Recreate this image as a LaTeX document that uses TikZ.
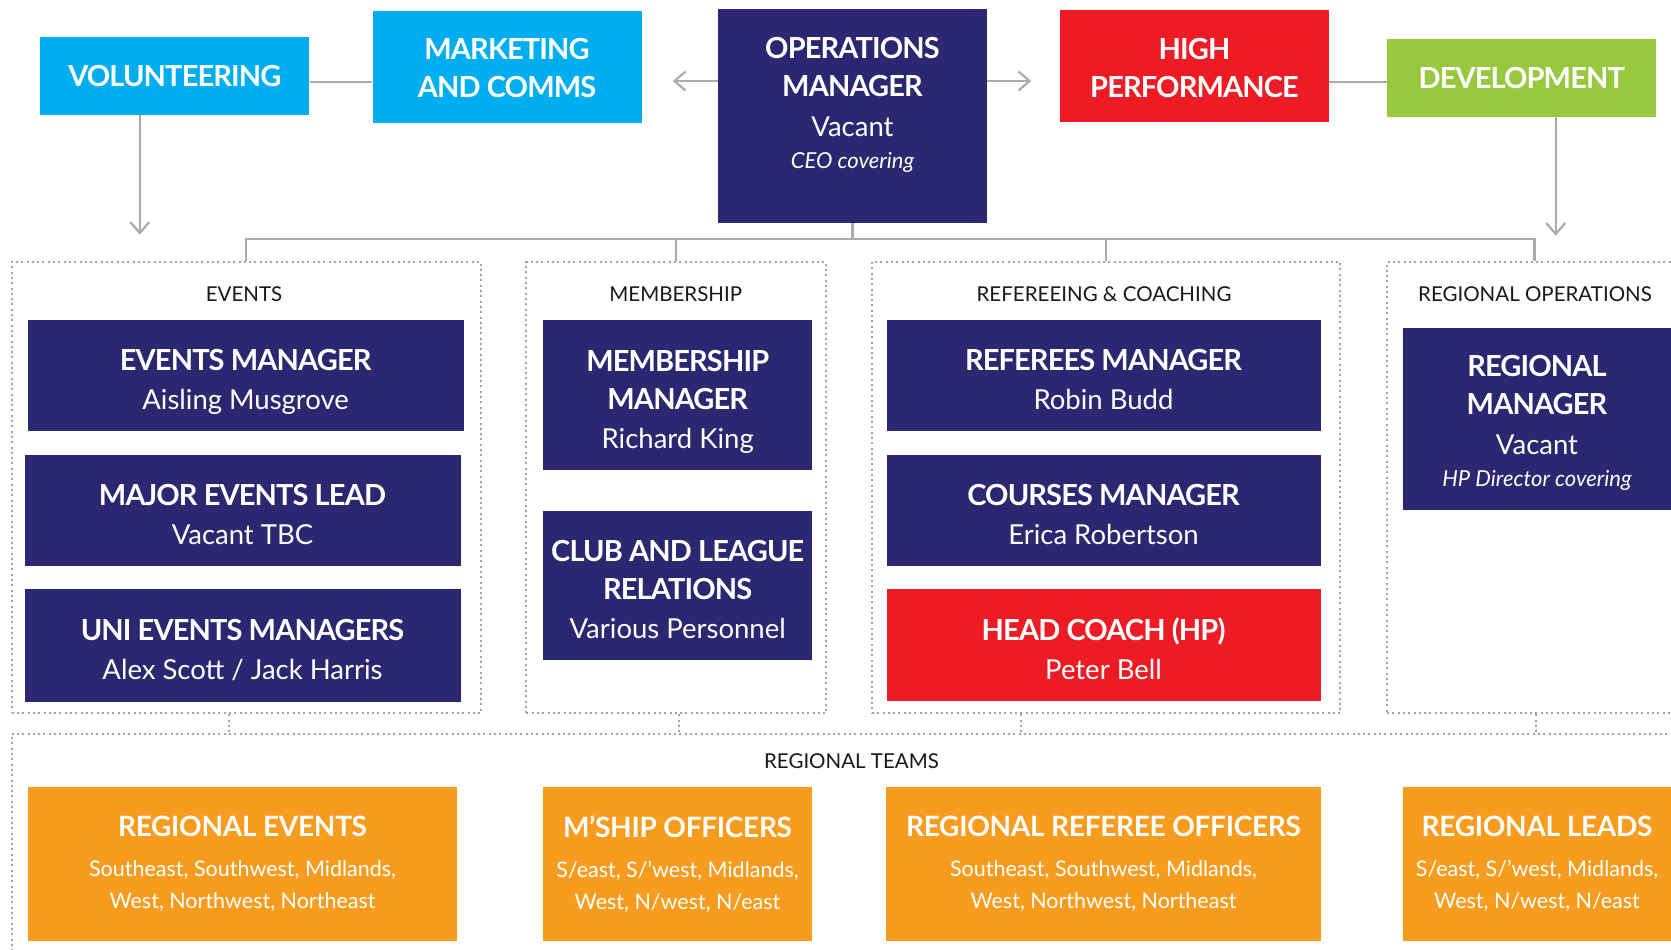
\documentclass[tikz,border=0pt]{standalone}
\usepackage{fontspec}
\setmainfont{Lato}
\usetikzlibrary{arrows.meta}

\definecolor{navy}{HTML}{2B2770}
\definecolor{skyblue}{HTML}{00AEEF}
\definecolor{hpred}{HTML}{ED1C24}
\definecolor{devgreen}{HTML}{97C83E}
\definecolor{teamorange}{HTML}{F89C1F}
\definecolor{linegray}{HTML}{ABABAB}
\definecolor{dotgray}{HTML}{A3A3A3}

\newcommand{\boxhead}[1]{{\fontsize{29}{37}\bfseries\selectfont\addfontfeatures{LetterSpace=-3}#1}}
\newcommand{\boxname}[1]{{\fontsize{27.5}{30}\selectfont #1}}
\newcommand{\boxnote}[1]{{\fontsize{22}{25}\itshape\selectfont #1}}
\newcommand{\teamhead}[1]{{\fontsize{28}{36}\bfseries\selectfont\addfontfeatures{LetterSpace=-1}#1}}
\newcommand{\teamarea}[1]{{\fontsize{21.5}{25}\selectfont #1}}

\begin{document}
\begin{tikzpicture}[x=1pt, y=-1pt,
    box/.style={rectangle, inner sep=0pt, align=center, text=white,
      font=\fontsize{25}{38}\selectfont},
    role/.style={box, fill=navy, text height=68pt, text depth=0pt},
    top/.style={box, minimum width=269pt},
    team/.style={box, fill=teamorange, minimum height=154pt},
    frame/.style={draw=dotgray, line width=2pt, dash pattern=on 2pt off 3.3pt},
    group/.style={frame, rectangle, inner sep=0pt},
    grouptitle/.style={text=black!90, font=\fontsize{20.5}{24}\selectfont},
    link/.style={draw=linegray, line width=2.2pt},
    arrow/.style={link, -{Straight Barb[length=11pt, width=19pt]}}
  ]
  \clip (0,0) rectangle (1671,950);
  \fill[white] (0,0) rectangle (1671,950);

  % top row
  \node[top, fill=skyblue, minimum height=77pt] (vol) at (174.8,76) {\boxhead{VOLUNTEERING}};
  \node[top, fill=skyblue, minimum height=111pt, text height=61pt, text depth=0pt] (mkt) at (507,67) {\boxhead{MARKETING}\\\boxhead{AND COMMS}};
  \node[top, fill=navy, minimum height=213pt, text depth=27pt] (ops) at (852.5,116)
    {\boxhead{OPERATIONS}\\\boxhead{MANAGER}\\[2pt]\boxname{Vacant}\\[-6pt]\boxnote{CEO covering}};
  \node[top, fill=hpred, minimum height=111pt, text height=62pt, text depth=0pt] (hp) at (1194.5,66) {\boxhead{HIGH}\\\boxhead{PERFORMANCE}};
  \node[top, fill=devgreen, minimum height=77pt] (dev) at (1521.7,78) {\boxhead{DEVELOPMENT}};

  \draw[link] ([yshift=-6pt]vol.east) -- ([yshift=-6pt]vol.east -| mkt.west);
  \draw[link] ([yshift=-16pt]hp.east) -- ([yshift=-16pt]hp.east -| dev.west);
  \draw[arrow] ([yshift=35pt]ops.west) -- ++(-45,0) coordinate (opsleft);
  \draw[arrow] ([yshift=35pt]ops.east) -- ++(44,0) coordinate (opsright);
  \draw[arrow] ([xshift=-35pt]vol.south) -- ++(0,120) coordinate (volend);
  \draw[arrow] ([xshift=34pt]dev.south) -- ++(0,119) coordinate (devend);

  % department frames
  \node[group, minimum width=469pt, minimum height=451.5pt] (evc) at (246.2,487.7) {};
  \node[group, minimum width=299.5pt, minimum height=451.5pt] (mbc) at (676.2,487.7) {};
  \node[group, minimum width=468.5pt, minimum height=451.5pt] (rcc) at (1106.2,487.7) {};
  \node[group, minimum width=295pt, minimum height=451.5pt] (roc) at (1534.5,487.7) {};
  \node[group, minimum width=1688pt, minimum height=246pt] (rtc) at (855.5,857) {};

  \node[grouptitle] (evt) at (244,294) {EVENTS};
  \node[grouptitle] (mbt) at (675.7,294) {MEMBERSHIP};
  \node[grouptitle] (rct) at (1104,294) {REFEREEING \& COACHING};
  \node[grouptitle] (rot) at (1535,294) {REGIONAL OPERATIONS};
  \node[grouptitle] (rtt) at (851.5,761) {REGIONAL TEAMS};

  \draw[link] (ops.south) -- ++(0,16) coordinate (bus);
  \draw[link] (evc.north) |- (bus) -| (roc.north);
  \draw[link] (mbc.north) -- (mbc.north |- bus);
  \draw[link] (rcc.north) -- (rcc.north |- bus);

  \draw[frame] ([xshift=-17pt]evc.south) -- ([xshift=-17pt]evc.south |- rtc.north);
  \draw[frame] ([xshift=3pt]mbc.south) -- ([xshift=3pt]mbc.south |- rtc.north);
  \draw[frame] ([xshift=-85pt]rcc.south) -- ([xshift=-85pt]rcc.south |- rtc.north);
  \draw[frame] ([xshift=1pt]roc.south) -- ([xshift=1pt]roc.south |- rtc.north);

  % events
  \node[role, minimum width=436pt, minimum height=111pt] (evm) at (245.6,375)
    {\boxhead{EVENTS MANAGER}\\[1pt]\boxname{Aisling Musgrove}};
  \node[role, minimum width=436pt, minimum height=111pt] (mel) at (242.5,510.5)
    {\boxhead{MAJOR EVENTS LEAD}\\[1pt]\boxname{Vacant TBC}};
  \node[role, minimum width=436pt, minimum height=113pt] (uem) at (242.5,645.5)
    {\boxhead{UNI EVENTS MANAGERS}\\[1pt]\boxname{Alex Scott / Jack Harris}};

  % membership
  \node[role, text height=106pt, minimum width=268.5pt, minimum height=150pt] (mem) at (677.7,395)
    {\boxhead{MEMBERSHIP}\\\boxhead{MANAGER}\\[1pt]\boxname{Richard King}};
  \node[role, text height=106pt, minimum width=268.5pt, minimum height=149pt] (clr) at (677.7,585)
    {\boxhead{CLUB AND LEAGUE}\\\boxhead{RELATIONS}\\[1pt]\boxname{Various Personnel}};

  % refereeing and coaching
  \node[role, minimum width=434pt, minimum height=111pt] (rfm) at (1103.5,375)
    {\boxhead{REFEREES MANAGER}\\[1pt]\boxname{Robin Budd}};
  \node[role, minimum width=434pt, minimum height=111pt] (crm) at (1103.5,510.5)
    {\boxhead{COURSES MANAGER}\\[1pt]\boxname{Erica Robertson}};
  \node[role, fill=hpred, minimum width=434pt, minimum height=112.5pt] (hdc) at (1103.5,645.2)
    {\boxhead{HEAD COACH (HP)}\\[1pt]\boxname{Peter Bell}};

  % regional operations
  \node[role, text height=135pt, minimum width=268pt, minimum height=182.5pt] (rgm) at (1537,419.2)
    {\boxhead{REGIONAL}\\\boxhead{MANAGER}\\[2pt]\boxname{Vacant}\\[-6pt]\boxnote{HP Director covering}};

  % regional teams
  \node[team, minimum width=429pt] (rge) at (242.5,864)
    {\teamhead{REGIONAL EVENTS}\\[2pt]\teamarea{Southeast, Southwest, Midlands,}\\[-6pt]\teamarea{West, Northwest, Northeast}};
  \node[team, minimum width=269pt] (mso) at (677.5,864)
    {\teamhead{M’SHIP OFFICERS}\\[2pt]\teamarea{S/east, S/’west, Midlands,}\\[-6pt]\teamarea{West, N/west, N/east}};
  \node[team, minimum width=435pt] (rro) at (1103.5,864)
    {\teamhead{REGIONAL REFEREE OFFICERS}\\[2pt]\teamarea{Southeast, Southwest, Midlands,}\\[-6pt]\teamarea{West, Northwest, Northeast}};
  \node[team, minimum width=268pt] (rgl) at (1537,864)
    {\teamhead{REGIONAL LEADS}\\[2pt]\teamarea{S/east, S/’west, Midlands,}\\[-6pt]\teamarea{West, N/west, N/east}};
\end{tikzpicture}
\end{document}
